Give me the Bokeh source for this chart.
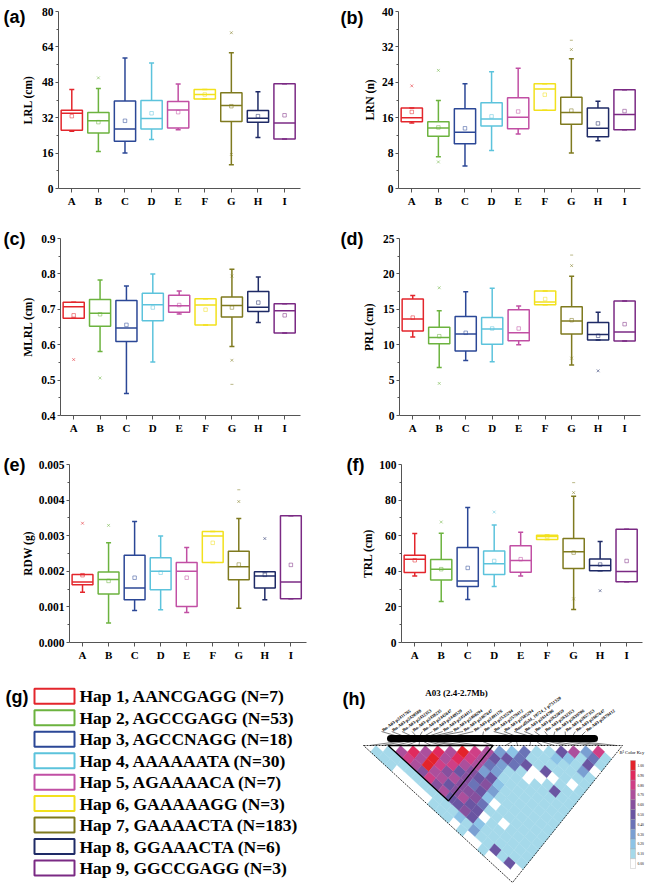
import numpy as np
from bokeh.plotting import figure
from bokeh.models import Range1d, FixedTicker, NumeralTickFormatter, Label, LinearAxis
from bokeh.layouts import column, row
from bokeh.embed import file_html
from bokeh.resources import INLINE
from bokeh.core.properties import value

categories = ["A", "B", "C", "D", "E", "F", "G", "H", "I"]
hap_colors = ["#e3262c", "#6cb33f", "#2b4796", "#5cc3dc", "#c14fa4",
              "#f2e11d", "#7f7a1f", "#1e2a66", "#7b2a84"]

# (a) LRL (cm)
lrl_low = [25.9, 16.7, 16.0, 22.1, 26.6, 40.4, 10.7, 23.1, 22.4]
lrl_q1 = [26.3, 25.1, 21.3, 26.9, 27.3, 40.4, 30.3, 29.9, 22.4]
lrl_med = [34.0, 30.6, 26.9, 31.6, 35.5, 42.5, 37.5, 31.8, 29.6]
lrl_q3 = [35.4, 34.3, 39.6, 39.8, 39.3, 44.8, 43.3, 35.2, 47.3]
lrl_high = [44.8, 45.2, 59.0, 56.7, 47.2, 44.8, 61.3, 43.7, 47.3]
lrl_mean = [32.7, 30.0, 30.6, 34.0, 34.5, 42.5, 37.2, 32.7, 33.1]
lrl_x_cat = ["B", "G", "G"]
lrl_x_val = [50.0, 70.4, 15.4]
lrl_d_cat = []
lrl_d_val = []

# (b) LRN (n)
lrn_low = [14.8, 7.2, 5.1, 8.6, 12.3, 17.7, 8.0, 10.8, 13.3]
lrn_q1 = [15.1, 11.8, 10.1, 14.1, 13.5, 17.7, 14.5, 11.7, 13.3]
lrn_med = [16.0, 13.7, 12.7, 15.7, 16.1, 22.5, 17.2, 13.6, 16.7]
lrn_q3 = [18.2, 15.1, 18.0, 19.4, 20.5, 23.7, 20.6, 18.2, 22.3]
lrn_high = [18.2, 19.9, 23.7, 26.4, 27.2, 23.7, 29.3, 19.7, 22.3]
lrn_mean = [17.3, 13.8, 13.6, 16.3, 17.4, 21.2, 17.6, 14.7, 17.5]
lrn_x_cat = ["A", "B", "B", "G"]
lrn_x_val = [23.2, 26.7, 6.0, 31.4]
lrn_d_cat = ["G"]
lrn_d_val = [33.5]

# (c) MLRL (cm)
mlrl_low = [0.675, 0.581, 0.462, 0.551, 0.687, 0.656, 0.595, 0.663, 0.633]
mlrl_q1 = [0.675, 0.652, 0.609, 0.668, 0.692, 0.656, 0.678, 0.694, 0.633]
mlrl_med = [0.707, 0.689, 0.647, 0.713, 0.710, 0.712, 0.711, 0.706, 0.696]
mlrl_q3 = [0.720, 0.728, 0.725, 0.745, 0.740, 0.730, 0.735, 0.750, 0.716]
mlrl_high = [0.720, 0.783, 0.766, 0.800, 0.752, 0.730, 0.813, 0.791, 0.716]
mlrl_mean = [0.683, 0.686, 0.656, 0.705, 0.712, 0.699, 0.705, 0.719, 0.683]
mlrl_x_cat = ["A", "B", "G", "G"]
mlrl_x_val = [0.558, 0.506, 0.556, 0.794]
mlrl_d_cat = ["G"]
mlrl_d_val = [0.488]

# (d) PRL (cm)
prl_low = [11.07, 6.78, 7.76, 7.6, 10.0, 15.65, 7.15, 10.65, 10.51]
prl_q1 = [11.92, 10.14, 9.11, 10.05, 10.56, 15.65, 11.5, 10.65, 10.51]
prl_med = [13.64, 11.03, 11.5, 12.2, 11.68, 16.03, 13.36, 11.45, 11.78]
prl_q3 = [16.45, 12.48, 14.0, 13.83, 14.95, 17.57, 15.37, 13.13, 16.17]
prl_high = [16.96, 14.81, 17.48, 17.99, 15.47, 17.57, 19.67, 14.58, 16.17]
prl_mean = [13.83, 11.2, 11.68, 12.29, 12.29, 16.45, 13.46, 11.26, 12.9]
prl_x_cat = ["B", "B", "G", "G", "H"]
prl_x_val = [18.04, 4.53, 21.17, 8.1, 6.31]
prl_d_cat = ["G"]
prl_d_val = [22.66]

# (e) RDW (g)
rdw_low = [0.00141, 0.00055, 0.0009, 0.00092, 0.00084, 0.00225, 0.00096, 0.0012, 0.00123]
rdw_q1 = [0.00162, 0.00136, 0.0012, 0.00148, 0.00101, 0.00225, 0.00176, 0.00153, 0.00123]
rdw_med = [0.0017, 0.00177, 0.00153, 0.0020, 0.0020, 0.00299, 0.00213, 0.00187, 0.0017]
rdw_q3 = [0.00191, 0.00198, 0.00245, 0.00238, 0.00225, 0.00312, 0.00256, 0.00199, 0.00356]
rdw_high = [0.00191, 0.0028, 0.0034, 0.00299, 0.00267, 0.00312, 0.00348, 0.00199, 0.00356]
rdw_mean = [0.00189, 0.00173, 0.00182, 0.00196, 0.00182, 0.0028, 0.00219, 0.0019, 0.00218]
rdw_x_cat = ["A", "B", "G", "H"]
rdw_x_val = [0.00335, 0.00329, 0.00396, 0.00292]
rdw_d_cat = ["G"]
rdw_d_val = [0.00429]

# (f) TRL (cm)
trl_low = [37.3, 23.0, 24.1, 31.5, 37.3, 57.9, 18.6, 40.3, 34.1]
trl_q1 = [39.3, 35.1, 31.5, 38.2, 39.5, 57.9, 41.6, 40.3, 34.1]
trl_med = [46.8, 41.2, 34.5, 44.2, 46.0, 59.6, 51.0, 43.2, 39.9]
trl_q3 = [49.0, 46.6, 53.4, 51.4, 54.4, 60.3, 58.4, 46.9, 63.6]
trl_high = [61.2, 61.4, 75.9, 66.0, 62.0, 60.3, 82.2, 56.8, 63.6]
trl_mean = [46.2, 41.2, 41.9, 45.8, 46.8, 59.6, 50.5, 43.8, 45.8]
trl_x_cat = ["B", "D", "G", "G", "H"]
trl_x_val = [67.7, 73.3, 84.2, 24.5, 29.1]
trl_d_cat = ["G"]
trl_d_val = [89.8]

# (g) legend
legend_labels = ["Hap 1, AANCGAGG (N=7)", "Hap 2, AGCCGAGG (N=53)",
                 "Hap 3, AGCCNAGG (N=18)", "Hap 4, AAAAAATA (N=30)",
                 "Hap 5, AGAAAACA (N=7)", "Hap 6, GAAAAAGG (N=3)",
                 "Hap 7, GAAAACTA (N=183)", "Hap 8, GGAAACTA (N=6)",
                 "Hap 9, GGCCGAGG (N=3)"]

# (h) LD heatmap
ld_title = "A03 (2.4-2.7Mb)"
snp_names = ["Bn-A03-p2411765", "Bn-A03-p2420588", "Bn-A03-p2432353", "Bn-A03-p2438235",
             "Bn-A03-p2442647", "Bn-A03-p2448529", "Bn-A03-p2454412", "Bn-A03-p2460294",
             "Bn-A03-p2467647", "Bn-A03-p2491176", "Bn-A03-p2535294", "Bn-A03-p2579412",
             "Bn-A03-p2585294", "Bnscaffold_19724_1-p751320", "Bn-A03-p2614706",
             "Bn-A03-p2622059", "Bn-A03-p2632353", "Bn-A03-p2639706", "Bn-A03-p2657353",
             "Bn-A03-p2667647", "Bn-A03-p2679412"]
snp_pos_kb = [2411.8, 2420.6, 2432.4, 2438.2, 2442.6, 2448.5, 2454.4, 2460.3, 2467.6,
              2491.2, 2535.3, 2579.4, 2585.3, 2605.9, 2614.7, 2622.1, 2632.4, 2639.7,
              2657.4, 2667.6, 2679.4]
ld_rows = [
    [0.15, 0.13, 0.14, 0.05, 0.04, 0.03, 0.05, 0.02, 0.14, 0.16, 0.15, 0.05, 0.12, 0.04, 0.05, 0.15, 0.03, 0.04, 0.02, 0.05],
    [0.14, 0.15, 0.13, 0.16, 0.15, 0.14, 0.15, 0.13, 0.16, 0.15, 0.25, 0.15, 0.32, 0.13, 0.15, 0.55, 0.15, 0.58, 0.05],
    [0.72, 0.88, 0.75, 0.68, 0.82, 0.66, 0.74, 0.58, 0.55, 0.62, 0.52, 0.25, 0.15, 0.12, 0.14, 0.13, 0.15, 0.12],
    [0.92, 0.74, 1.0, 0.70, 0.78, 0.55, 0.66, 0.72, 0.55, 0.58, 0.05, 0.15, 0.14, 0.12, 0.15, 0.13, 0.16],
    [0.76, 1.0, 0.85, 0.62, 0.72, 0.64, 0.62, 0.66, 0.42, 0.15, 0.16, 0.05, 0.14, 0.13, 0.15, 0.14],
    [0.96, 0.78, 0.88, 0.56, 0.68, 0.45, 0.58, 0.25, 0.05, 0.14, 0.16, 0.15, 0.13, 0.14, 0.12],
    [0.74, 0.93, 0.72, 0.60, 0.52, 0.66, 0.32, 0.14, 0.15, 0.13, 0.16, 0.14, 0.15, 0.13],
    [1.0, 0.82, 0.70, 0.38, 0.56, 0.22, 0.16, 0.14, 0.15, 0.13, 0.15, 0.16, 0.14],
    [0.88, 0.74, 0.46, 0.35, 0.15, 0.13, 0.16, 0.14, 0.15, 0.12, 0.15, 0.14],
    [0.78, 0.58, 0.36, 0.18, 0.14, 0.16, 0.15, 0.14, 0.13, 0.15, 0.15],
    [0.32, 0.56, 0.42, 0.15, 0.05, 0.14, 0.15, 0.16, 0.14, 0.13],
    [0.28, 0.46, 0.55, 0.05, 0.04, 0.15, 0.52, 0.14, 0.15],
    [0.48, 0.16, 0.18, 0.56, 0.04, 0.15, 0.14, 0.16],
    [0.16, 0.14, 0.15, 0.13, 0.15, 0.05, 0.14],
    [0.15, 0.22, 0.14, 0.16, 0.13, 0.15],
    [0.52, 0.28, 0.15, 0.32, 0.16],
    [0.74, 0.15, 0.56, 0.04],
    [0.35, 0.46, 0.14],
    [0.88, 0.15],
    [0.04],
]
ld_block = (2, 10)
key_labels = ["1.00", "0.90", "0.80", "0.70", "0.60", "0.50", "0.40", "0.30", "0.20", "0.10", "0.00"]
key_colors = ["#ffffff", "#a5d9ea", "#8cc3e6", "#7a9fd2", "#6a73b7", "#6a55a2",
              "#86509e", "#ac4f9c", "#cf3f86", "#e02a5e", "#e3232b"]

SERIF = "Liberation Serif"
SANS = "Liberation Sans"
AX = "#555555"


def box_panel(W, H, px0, py0, L, R, T, B, yr, majors, minors, fmt, ylab, lab_std,
              low, q1, med, q3, high, mean, xc, xv, dc, dv, ltxt, lpy, lstd):
    xr = (0.5, 9.6)
    p = figure(width=W, height=H, title=None, output_backend="svg", toolbar_location=None,
               x_range=Range1d(*xr), y_range=Range1d(*yr),
               min_border_left=L - px0, min_border_right=px0 + W - R,
               min_border_top=T - py0, min_border_bottom=py0 + H - B)
    p.outline_line_color = None
    p.grid.visible = False
    xs = np.arange(1, 10)
    p.segment(x0=xs, y0=q3, x1=xs, y1=high, line_color=hap_colors, line_width=1.5)
    p.segment(x0=xs, y0=low, x1=xs, y1=q1, line_color=hap_colors, line_width=1.5)
    p.vbar(x=xs, width=0.8, bottom=q1, top=q3, fill_color=None,
           line_color=hap_colors, line_width=1.5)
    p.segment(x0=xs - 0.4, y0=med, x1=xs + 0.4, y1=med, line_color=hap_colors, line_width=1.5)
    p.scatter(x=xs, y=high, marker="dash", size=5, line_color=hap_colors, line_width=1.5)
    p.scatter(x=xs, y=low, marker="dash", size=5, line_color=hap_colors, line_width=1.5)
    p.scatter(x=xs, y=mean, marker="square", size=3.5, fill_color=None,
              line_color=hap_colors, line_alpha=0.65, line_width=0.8)
    if xc:
        ox = [categories.index(c) + 1 for c in xc]
        oc = [hap_colors[categories.index(c)] for c in xc]
        p.scatter(x=ox, y=xv, marker="x", size=4, line_color=oc, line_alpha=0.6, line_width=0.9)
    if dc:
        ox = [categories.index(c) + 1 for c in dc]
        oc = [hap_colors[categories.index(c)] for c in dc]
        p.scatter(x=ox, y=dv, marker="dash", size=3, line_color=oc, line_alpha=0.6, line_width=0.9)

    xa = p.xaxis[0]
    ya = p.yaxis[0]
    xa.ticker = FixedTicker(ticks=list(range(1, 10)))
    xa.major_label_overrides = {i + 1: c for i, c in enumerate(categories)}
    ya.ticker = FixedTicker(ticks=majors, minor_ticks=minors)
    ya.formatter = NumeralTickFormatter(format=fmt)
    for ax in (xa, ya):
        ax.axis_line_color = AX
        ax.major_tick_line_color = AX
        ax.minor_tick_line_color = AX
        ax.major_label_text_font = SERIF
        ax.major_label_text_font_style = "bold"
        ax.major_label_text_color = "black"
        ax.major_tick_in = 0
        ax.minor_tick_in = 0
    xa.major_label_text_font_size = "11px"
    ya.major_label_text_font_size = "11.5px"
    xa.major_tick_out = 4
    xa.minor_tick_out = 0
    xa.major_label_standoff = 2
    ya.major_tick_out = 3
    ya.minor_tick_out = 2
    ya.major_label_standoff = 2
    ya.axis_label = ylab
    ya.axis_label_text_font = SERIF
    ya.axis_label_text_font_style = "bold"
    ya.axis_label_text_font_size = "11.5px"
    ya.axis_label_text_color = "black"
    ya.axis_label_standoff = lab_std

    # panel letter, drawn as the single tick label of an outer left axis
    ly = yr[0] + (B - lpy) / (B - T) * (yr[1] - yr[0])
    lax = LinearAxis(ticker=FixedTicker(ticks=[ly]), major_label_overrides={ly: ltxt},
                     axis_line_color=None, major_tick_line_color=None,
                     minor_tick_line_color=None, major_tick_out=0, minor_tick_out=0,
                     major_tick_in=0, minor_tick_in=0, major_label_standoff=lstd,
                     major_label_text_font=SANS, major_label_text_font_style="bold",
                     major_label_text_font_size="18px", major_label_text_color="black")
    p.add_layout(lax, "left")
    return p


pa = box_panel(325, 215, 0, 0, 55, 300, 11, 189, (0, 80), [0, 16, 32, 48, 64, 80],
               [8, 24, 40, 56, 72], "0", "LRL (cm)", 5,
               lrl_low, lrl_q1, lrl_med, lrl_q3, lrl_high, lrl_mean,
               lrl_x_cat, lrl_x_val, lrl_d_cat, lrl_d_val, "(a)", 17, -7)
pb = box_panel(325, 215, 325, 0, 398, 640, 10, 188, (0, 40), [0, 8, 16, 24, 32, 40],
               [4, 12, 20, 28, 36], "0", "LRN (n)", 3,
               lrn_low, lrn_q1, lrn_med, lrn_q3, lrn_high, lrn_mean,
               lrn_x_cat, lrn_x_val, lrn_d_cat, lrn_d_val, "(b)", 17, -3)
pc = box_panel(325, 225, 0, 215, 58, 300, 238, 415, (0.4, 0.9), [0.4, 0.5, 0.6, 0.7, 0.8, 0.9],
               [0.45, 0.55, 0.65, 0.75, 0.85], "0.0", "MLRL (cm)", 4,
               mlrl_low, mlrl_q1, mlrl_med, mlrl_q3, mlrl_high, mlrl_mean,
               mlrl_x_cat, mlrl_x_val, mlrl_d_cat, mlrl_d_val, "(c)", 238.5, -6)
pd_ = box_panel(325, 225, 325, 215, 399, 640, 238, 415, (0, 25), [0, 5, 10, 15, 20, 25],
                [2.5, 7.5, 12.5, 17.5, 22.5], "0", "PRL (cm)", 5,
                prl_low, prl_q1, prl_med, prl_q3, prl_high, prl_mean,
                prl_x_cat, prl_x_val, prl_d_cat, prl_d_val, "(d)", 238.5, -4)
pe = box_panel(325, 230, 0, 440, 66, 306, 463, 642, (0, 0.005),
               [0, 0.001, 0.002, 0.003, 0.004, 0.005],
               [0.0005, 0.0015, 0.0025, 0.0035, 0.0045], "0.000", "RDW (g)", 2,
               rdw_low, rdw_q1, rdw_med, rdw_q3, rdw_high, rdw_mean,
               rdw_x_cat, rdw_x_val, rdw_d_cat, rdw_d_val, "(e)", 463.5, -7)
pf = box_panel(325, 230, 325, 440, 401, 642, 464, 643, (0, 100), [0, 20, 40, 60, 80, 100],
               [10, 30, 50, 70, 90], "0", "TRL (cm)", 2,
               trl_low, trl_q1, trl_med, trl_q3, trl_high, trl_mean,
               trl_x_cat, trl_x_val, trl_d_cat, trl_d_val, "(f)", 464.5, -5)

# ---- (g) legend panel ----
pg = figure(width=325, height=215, title=None, output_backend="svg", toolbar_location=None,
            x_range=Range1d(0, 325), y_range=Range1d(885, 670),
            x_axis_type=None, y_axis_type=None, min_border=0)
pg.outline_line_color = None
ky = 695.8 + 21.46 * np.arange(len(legend_labels))
pg.rect(x=54, y=ky, width=40, height=15, fill_color=None, line_color=hap_colors, line_width=2)
pg.text(x=79, y=ky, text=legend_labels, text_font=value(SERIF), text_font_style="bold",
        text_font_size="17.5px", text_baseline="middle", text_align="left", text_color="black")
pg.add_layout(Label(x=5, y=696, text="(g)", text_font=SANS, text_font_style="bold",
                    text_font_size="18px", text_baseline="middle", text_align="left",
                    text_color="black"))

# ---- (h) LD heatmap ----
ph = figure(width=325, height=215, title=None, output_backend="svg", toolbar_location=None,
            x_range=Range1d(325, 650), y_range=Range1d(885, 670),
            x_axis_type=None, y_axis_type=None, min_border=0)
ph.outline_line_color = None
n = len(snp_names)
P0 = np.array([363.0, 745.0])
AP = np.array([512.0, 882.0])
TR = np.array([622.0, 745.0])
sx = (AP - P0) / n
sy = (TR - AP) / n


def M(x, y):
    return P0 + (x + 0.5) * sx + (y + 0.5) * sy


cx, cy, cc = [], [], []
for i, vals in enumerate(ld_rows):
    for k, v in enumerate(vals):
        j = i + 1 + k
        pts = [M(j - 0.5, i - 0.5), M(j + 0.5, i - 0.5), M(j + 0.5, i + 0.5), M(j - 0.5, i + 0.5)]
        cx.append([q[0] for q in pts])
        cy.append([q[1] for q in pts])
        cc.append(key_colors[min(10, int(v * 10 + 1e-9))])
ph.patches(xs=cx, ys=cy, fill_color=cc, line_color=cc, line_width=0.4)

ph.line(x=[P0[0], TR[0], AP[0], P0[0]], y=[P0[1], TR[1], AP[1], P0[1]],
        line_color="black", line_width=0.8, line_dash="2 1")
a, b = ld_block
blk = [M(a - 0.5, a - 0.5), M(b, b), M(b, a - 0.5), M(a - 0.5, a - 0.5)]
ph.line(x=[q[0] for q in blk], y=[q[1] for q in blk], line_color="black", line_width=1.3)

bar_x0, bar_x1, bar_y = 390.0, 594.0, 738.0
kb0, kb1 = 2400.0, 2700.0
bar_pos = [bar_x0 + (v - kb0) / (kb1 - kb0) * (bar_x1 - bar_x0) for v in snp_pos_kb]
diag_pos = [M(k, k)[0] for k in range(n)]
anchors = np.linspace(381, 585, n)
ph.segment(x0=bar_pos, y0=bar_y + 3, x1=diag_pos, y1=745, line_color="black", line_width=0.5)
ph.segment(x0=anchors, y0=731, x1=bar_pos, y1=bar_y - 2, line_color="black", line_width=0.5)
ph.line(x=[bar_x0, bar_x1], y=[bar_y, bar_y], line_color="black", line_width=7, line_cap="round")
ph.text(x=anchors + 1, y=[730] * n, text=snp_names, angle=36, angle_units="deg",
        text_font=value(SERIF), text_font_style="bold", text_font_size="4.5px",
        text_align="left", text_baseline="middle", text_color="black")
ph.text(x=[456], y=[692], text=[ld_title], text_font=value(SERIF), text_font_style="bold",
        text_font_size="9px", text_align="center", text_baseline="middle", text_color="black")

nk = len(key_labels)
kt = 760 + (868 - 760) / nk * np.arange(nk)
kbm = kt + (868 - 760) / nk
ph.quad(left=630, right=635, top=kt, bottom=kbm, fill_color=key_colors[::-1],
        line_color="#999999", line_width=0.3)
ph.text(x=637, y=(kt + kbm) / 2, text=key_labels, text_font=value(SERIF),
        text_font_size="3.6px", text_baseline="middle", text_align="left", text_color="black")
ph.text(x=[619], y=[751.5], text=["R\u00b2 Color Key"], text_font=value(SERIF),
        text_font_size="4.6px", text_baseline="middle", text_align="left", text_color="black")
ph.add_layout(Label(x=342, y=698, text="(h)", text_font=SANS, text_font_style="bold",
                    text_font_size="18px", text_baseline="middle", text_align="left",
                    text_color="black"))

layout = column(row(pa, pb), row(pc, pd_), row(pe, pf), row(pg, ph))
open("out.html", "w").write(file_html(layout, INLINE))
